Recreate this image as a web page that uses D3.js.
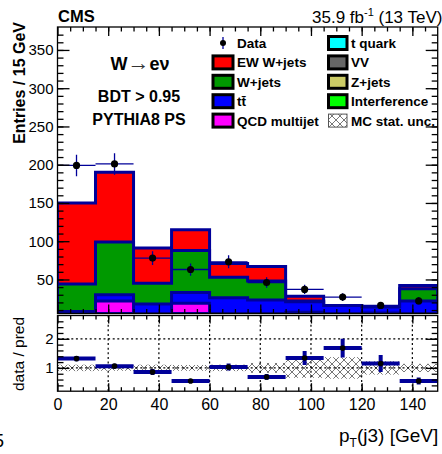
<!DOCTYPE html>
<html>
<head>
<meta charset="utf-8">
<script src="https://cdn.jsdelivr.net/npm/d3@7"></script>
<style>
  body { margin: 0; background: #fff; }
  svg { display: block; font-family: "Liberation Sans", Arial, Helvetica, sans-serif; }
</style>
</head>
<body>
<svg id="chart" width="442" height="454"></svg>
<script>
// bins of 15 GeV in pT(j3)
const binEdges = [0, 15, 30, 45, 60, 75, 90, 105, 120, 135, 150]
// stacked predictions (entries / bin)
const qcd     = [2, 22, 4, 19, 3, 3, 7, 3, 6, 3]
const ttbar   = [6, 8, 14, 14, 23, 20, 14, 13, 8, 19]
const wjets   = [36, 69, 27, 55, 27, 25, 1, 0, 0, 16]
const ewWjets = [106, 91, 46, 27, 18, 19, 6, 0, 0, 4]
// data
const dataCounts = [199, 201, 78, 63, 73, 46, 37, 27, 16, 22]
const dataErr    = [14, 14, 9, 8, 8.5, 7, 6, 5, 4, 5]
// ratio panel
const ratio    = [1.32, 1.06, 0.86, 0.55, 1.03, 0.69, 1.34, 1.68, 1.15, 0.55]
const ratioErr = [0.09, 0.08, 0.1, 0.07, 0.12, 0.1, 0.24, 0.32, 0.29, 0.12]
const mcUnc    = [0.11, 0.1, 0.11, 0.1, 0.11, 0.17, 0.34, 0.37, 0.23, 0.14]
// ticks
const yTicksMain  = [50, 100, 150, 200, 250, 300, 350]
const xTicks      = [0, 20, 40, 60, 80, 100, 120, 140]
const yTicksRatio = [1, 2]
// legend
const legendLeft  = ["Data", "EW W+jets", "W+jets", "tt\u0304", "QCD multijet"]
const legendRight = ["t quark", "VV", "Z+jets", "Interference", "MC stat. unc."]

const navy = "#000099"
const left = 57.5, right = 437.7
const mainTop = 27, mainBottom = 313.5
const ratioTop = 315.5, ratioBottom = 391.2

const svg = d3.select("#chart")

const x = d3.scaleLinear().domain([0, 150]).range([left, right])
const y = d3.scaleLinear().domain([5.5, 380]).range([mainBottom, mainTop])
const yr = d3.scaleLinear().domain([0.2, 2.8]).range([ratioBottom, ratioTop])

const defs = svg.append("defs")
defs.append("clipPath").attr("id", "mainClip")
  .append("rect")
  .attr("x", left).attr("y", mainTop)
  .attr("width", right - left).attr("height", mainBottom - mainTop)
defs.append("clipPath").attr("id", "ratioClip")
  .append("rect")
  .attr("x", left).attr("y", ratioTop)
  .attr("width", right - left).attr("height", ratioBottom - ratioTop)

const pat = defs.append("pattern")
  .attr("id", "hatch")
  .attr("patternUnits", "userSpaceOnUse")
  .attr("width", 8).attr("height", 8)
pat.append("path")
  .attr("d", "M-1,-1L9,9M9,-1L-1,9")
  .attr("stroke", "#777")
  .attr("stroke-width", 1)
  .attr("fill", "none")

//stack the backgrounds
const rows = qcd.map(function (d, i) {
  return { qcd: qcd[i], ttbar: ttbar[i], wjets: wjets[i], ew: ewWjets[i] }
})
const keys = ["qcd", "ttbar", "wjets", "ew"]
const fills = { qcd: "#ff00ff", ttbar: "#0000ff", wjets: "#009900", ew: "#ff0000" }
const layers = d3.stack().keys(keys)(rows)

const area = d3.area()
  .curve(d3.curveStepAfter)
  .x(function (d) { return x(d.edge) })
  .y0(mainBottom)
  .y1(function (d) { return y(d.top) })

const stackG = svg.append("g").attr("clip-path", "url(#mainClip)")
layers.slice().reverse().forEach(function (layer) {
  const pts = binEdges.map(function (e, i) {
    return { edge: e, top: layer[Math.min(i, layer.length - 1)][1] }
  })
  stackG.append("path")
    .datum(pts)
    .attr("d", area)
    .attr("fill", fills[layer.key])
    .attr("stroke", navy)
    .attr("stroke-width", 3)
})

//data points
const dataG = svg.append("g").attr("clip-path", "url(#mainClip)")
dataCounts.forEach(function (d, i) {
  const cx = x((binEdges[i] + binEdges[i + 1]) / 2)
  dataG.append("line")
    .attr("x1", x(binEdges[i])).attr("x2", x(binEdges[i + 1]))
    .attr("y1", y(d)).attr("y2", y(d))
    .attr("stroke", navy).attr("stroke-width", 1.3)
  dataG.append("line")
    .attr("x1", cx).attr("x2", cx)
    .attr("y1", y(d - dataErr[i])).attr("y2", y(d + dataErr[i]))
    .attr("stroke", navy).attr("stroke-width", 1.3)
  dataG.append("circle")
    .attr("cx", cx).attr("cy", y(d)).attr("r", 3.6)
    .attr("fill", "#000")
})

//ratio panel
const ratioG = svg.append("g").attr("clip-path", "url(#ratioClip)")
ratioG.selectAll("rect.unc")
  .data(mcUnc)
  .enter()
  .append("rect")
  .attr("class", "unc")
  .attr("x", function (d, i) { return x(binEdges[i]) })
  .attr("width", function (d, i) { return x(binEdges[i + 1]) - x(binEdges[i]) })
  .attr("y", function (d) { return yr(1 + d) })
  .attr("height", function (d) { return yr(1 - d) - yr(1 + d) })
  .attr("fill", "url(#hatch)")

//grid
xTicks.slice(1).forEach(function (t) {
  ratioG.append("line")
    .attr("x1", x(t)).attr("x2", x(t))
    .attr("y1", ratioTop).attr("y2", ratioBottom)
    .attr("stroke", "#000").attr("stroke-width", 1.2)
    .attr("stroke-dasharray", "2,2.6")
})
yTicksRatio.forEach(function (t) {
  ratioG.append("line")
    .attr("x1", left).attr("x2", right)
    .attr("y1", yr(t)).attr("y2", yr(t))
    .attr("stroke", "#000").attr("stroke-width", 1.2)
    .attr("stroke-dasharray", "2,2.6")
})

ratio.forEach(function (r, i) {
  const cx = x((binEdges[i] + binEdges[i + 1]) / 2)
  ratioG.append("line")
    .attr("x1", x(binEdges[i])).attr("x2", x(binEdges[i + 1]))
    .attr("y1", yr(r)).attr("y2", yr(r))
    .attr("stroke", navy).attr("stroke-width", 4)
  ratioG.append("line")
    .attr("x1", cx).attr("x2", cx)
    .attr("y1", yr(r - ratioErr[i])).attr("y2", yr(r + ratioErr[i]))
    .attr("stroke", navy).attr("stroke-width", 4)
  ratioG.append("circle")
    .attr("cx", cx).attr("cy", yr(r)).attr("r", 2.8)
    .attr("fill", "#000")
})

//axes
function drawAxis(axis, tx, ty, fontSize) {
  const g = svg.append("g")
    .attr("transform", "translate(" + tx + "," + ty + ")")
    .call(axis)
  g.select(".domain").remove()
  g.selectAll("line").attr("stroke", "#000").attr("stroke-width", 1.3)
  g.selectAll("text")
    .attr("fill", "#000")
    .style("font-family", '"Liberation Sans", Arial, sans-serif')
    .style("font-size", fontSize + "px")
  return g
}

// main panel
drawAxis(d3.axisLeft(y).tickValues(yTicksMain).tickSize(-12).tickPadding(4), left, 0, 15)
drawAxis(d3.axisLeft(y).tickValues(d3.range(10, 380, 10)).tickSize(-6).tickFormat(""), left, 0, 15)
drawAxis(d3.axisRight(y).tickValues(yTicksMain).tickSize(-12).tickFormat(""), right, 0, 15)
drawAxis(d3.axisRight(y).tickValues(d3.range(10, 380, 10)).tickSize(-6).tickFormat(""), right, 0, 15)
drawAxis(d3.axisTop(x).tickValues(xTicks).tickSize(-9).tickFormat(""), 0, mainTop, 15)
drawAxis(d3.axisTop(x).tickValues(d3.range(5, 150, 5)).tickSize(-4.5).tickFormat(""), 0, mainTop, 15)
drawAxis(d3.axisBottom(x).tickValues(xTicks).tickSize(-9).tickFormat(""), 0, mainBottom, 15)
drawAxis(d3.axisBottom(x).tickValues(d3.range(5, 150, 5)).tickSize(-4.5).tickFormat(""), 0, mainBottom, 15)

// ratio panel
drawAxis(d3.axisLeft(yr).tickValues(yTicksRatio).tickSize(-12).tickPadding(4).tickFormat(d3.format("d")), left, 0, 15)
drawAxis(d3.axisLeft(yr).tickValues(d3.range(0.4, 2.8, 0.2)).tickSize(-6).tickFormat(""), left, 0, 15)
drawAxis(d3.axisRight(yr).tickValues(yTicksRatio).tickSize(-12).tickFormat(""), right, 0, 15)
drawAxis(d3.axisRight(yr).tickValues(d3.range(0.4, 2.8, 0.2)).tickSize(-6).tickFormat(""), right, 0, 15)
drawAxis(d3.axisBottom(x).tickValues(xTicks).tickSize(-8).tickPadding(7.5), 0, ratioBottom, 16)
drawAxis(d3.axisBottom(x).tickValues(d3.range(5, 150, 5)).tickSize(-4).tickFormat(""), 0, ratioBottom, 16)
drawAxis(d3.axisTop(x).tickValues(xTicks).tickSize(-8).tickFormat(""), 0, ratioTop, 16)
drawAxis(d3.axisTop(x).tickValues(d3.range(5, 150, 5)).tickSize(-4).tickFormat(""), 0, ratioTop, 16)

//frames
svg.append("rect")
  .attr("x", left).attr("y", mainTop)
  .attr("width", right - left).attr("height", mainBottom - mainTop)
  .attr("fill", "none").attr("stroke", "#000").attr("stroke-width", 1.3)
svg.append("rect")
  .attr("x", left).attr("y", ratioTop)
  .attr("width", right - left).attr("height", ratioBottom - ratioTop)
  .attr("fill", "none").attr("stroke", "#000").attr("stroke-width", 1.3)

//axis titles
svg.append("text")
  .attr("transform", "translate(25,22) rotate(-90)")
  .attr("text-anchor", "end")
  .style("font-size", "16px")
  .style("font-weight", "bold")
  .text("Entries / 15 GeV")

svg.append("text")
  .attr("transform", "translate(23.5,354) rotate(-90)")
  .attr("text-anchor", "middle")
  .style("font-size", "15.5px")
  .text("data / pred")

const xTitle = svg.append("text")
  .attr("x", 339).attr("y", 442)
  .style("font-size", "19px")
xTitle.append("tspan").text("p")
xTitle.append("tspan").attr("dy", 5).style("font-size", "12px").text("T")
xTitle.append("tspan").attr("dy", -5).text("(j3) [GeV]")

svg.append("text")
  .attr("x", -6).attr("y", 447)
  .style("font-size", "18px")
  .text("5")

//header
svg.append("text")
  .attr("x", 58).attr("y", 22)
  .style("font-size", "16.5px")
  .style("font-weight", "bold")
  .text("CMS")

const lumi = svg.append("text")
  .attr("x", 312).attr("y", 22.5)
  .style("font-size", "17px")
lumi.append("tspan").text("35.9 fb")
lumi.append("tspan").attr("dy", -7).style("font-size", "11px").text("-1")
lumi.append("tspan").attr("dy", 7).text(" (13 TeV)")

//channel labels
const chan = svg.append("text")
  .attr("x", 140).attr("y", 70)
  .attr("text-anchor", "middle")
  .style("font-size", "18px")
  .style("font-weight", "bold")
chan.append("tspan").text("W")
chan.append("tspan").style("font-weight", "normal").style("font-size", "22px").style("fill", "#333").text("\u2192")
chan.append("tspan").text("e\u03bd")

svg.append("text")
  .attr("x", 139).attr("y", 102)
  .attr("text-anchor", "middle")
  .style("font-size", "16px")
  .style("font-weight", "bold")
  .text("BDT > 0.95")

svg.append("text")
  .attr("x", 139).attr("y", 125)
  .attr("text-anchor", "middle")
  .style("font-size", "16px")
  .style("font-weight", "bold")
  .text("PYTHIA8 PS")

//add legend
const legendFillsLeft = [null, "#ff0000", "#009900", "#0000ff", "#ff00ff"]
const legendFillsRight = ["#00ffff", "#666666", "#cccc66", "#00ff00", "url(#hatch)"]
const legend = svg.append("g").attr("id", "legend")

function legendColumn(labels, fillsList, boxX, boxW, textX) {
  labels.forEach(function (label, i) {
    const cy = 43 + i * 19.4
    if (fillsList[i] === null) {
      legend.append("line")
        .attr("x1", boxX + boxW / 2).attr("x2", boxX + boxW / 2)
        .attr("y1", cy - 6).attr("y2", cy + 6)
        .attr("stroke", navy).attr("stroke-width", 1.3)
      legend.append("circle")
        .attr("cx", boxX + boxW / 2).attr("cy", cy).attr("r", 3)
        .attr("fill", "#000")
    } else {
      const hatched = fillsList[i] === "url(#hatch)"
      legend.append("rect")
        .attr("x", boxX).attr("y", cy - 6.5)
        .attr("width", boxW).attr("height", 13)
        .attr("fill", fillsList[i])
        .attr("stroke", hatched ? "#555" : "#000")
        .attr("stroke-width", hatched ? 1 : 3)
    }
    legend.append("text")
      .attr("x", textX).attr("y", cy + 5)
      .style("font-size", "13.5px")
      .style("font-weight", "bold")
      .text(label)
  })
}
legendColumn(legendLeft, legendFillsLeft, 213, 20, 237)
legendColumn(legendRight, legendFillsRight, 328.5, 18.5, 351)
</script>
</body>
</html>
